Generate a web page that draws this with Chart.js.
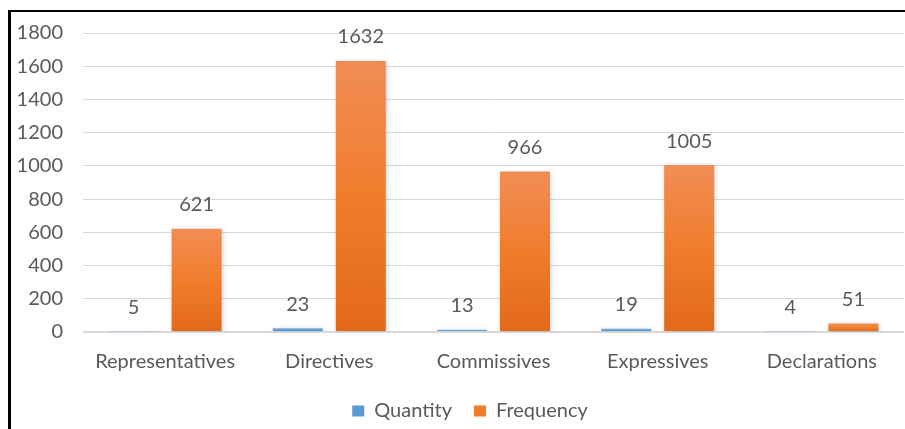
<!DOCTYPE html>
<html>
<head>
<meta charset="utf-8">
<script src="https://cdn.jsdelivr.net/npm/chart.js@4/dist/chart.umd.min.js"></script>
<style>
  html, body { margin: 0; padding: 0; background: #fff; }
  #wrap { position: relative; width: 905px; height: 429px; overflow: hidden; }
  #frame { position: absolute; left: 8px; top: 10px; right: -10px; bottom: -10px;
           border-left: 3px solid #000; border-top: 2px solid #000; }
  canvas { position: absolute; left: 0; top: 0; }
</style>
</head>
<body>
<div id="wrap">
  <div id="frame"></div>
  <canvas id="chart" width="905" height="429"></canvas>
</div>
<script>
// ── Data ──────────────────────────────────────────────────────────
const categories = ['Representatives', 'Directives', 'Commissives', 'Expressives', 'Declarations'];
const quantity   = [5, 23, 13, 19, 4];
const frequency  = [621, 1632, 966, 1005, 51];
const yTicks     = [0, 200, 400, 600, 800, 1000, 1200, 1400, 1600, 1800];

const FONT = 'Lato, "Open Sans", sans-serif';
const FSIZE = 20;
const TEXT = '#595959';

// per-bar vertical gradient, lighter at the top like Excel
function barGradient(stops) {
  return function(ctx) {
    const chart = ctx.chart;
    const y = chart.scales && chart.scales.y;
    if (!y || ctx.raw == null) return stops[1][1];
    const top = y.getPixelForValue(ctx.raw);
    const base = y.getPixelForValue(0);
    if (!isFinite(top) || Math.abs(base - top) < 1) return stops[1][1];
    const g = chart.ctx.createLinearGradient(0, top, 0, base);
    stops.forEach(s => g.addColorStop(s[0], s[1]));
    return g;
  };
}

// data labels above each bar
const valueLabels = {
  id: 'valueLabels',
  afterDatasetsDraw(chart) {
    const ctx = chart.ctx;
    ctx.save();
    ctx.font = FSIZE + 'px ' + FONT;
    ctx.fillStyle = TEXT;
    ctx.textAlign = 'center';
    ctx.textBaseline = 'middle';
    chart.data.datasets.forEach((ds, i) => {
      chart.getDatasetMeta(i).data.forEach((bar, j) => {
        ctx.fillText(String(ds.data[j]), bar.x, bar.y - 24);
      });
    });
    ctx.restore();
  }
};

// soft shadow behind the bars
const barShadow = {
  id: 'barShadow',
  beforeDatasetsDraw(chart) {
    const ctx = chart.ctx;
    ctx.save();
    ctx.shadowColor = 'rgba(0,0,0,0.22)';
    ctx.shadowBlur = 5;
    ctx.shadowOffsetX = 1;
    ctx.shadowOffsetY = 1;
  },
  afterDatasetsDraw(chart) {
    chart.ctx.restore();
  }
};

const chart = new Chart(document.getElementById('chart'), {
  type: 'bar',
  data: {
    labels: categories,
    datasets: [
      {
        label: 'Quantity',
        data: quantity,
        backgroundColor: barGradient([[0, '#7fb3e2'], [0.5, '#5b9bd5'], [1, '#4a89c6']]),
        categoryPercentage: 0.767,
        barPercentage: 0.794
      },
      {
        label: 'Frequency',
        data: frequency,
        backgroundColor: barGradient([[0, '#f18d55'], [0.5, '#f07d2c'], [1, '#e3691a']]),
        categoryPercentage: 0.767,
        barPercentage: 0.794
      }
    ]
  },
  options: {
    responsive: false,
    animation: false,
    layout: { padding: { top: 33, right: 1, left: 0, bottom: 6 } },
    plugins: {
      tooltip: { enabled: false },
      legend: {
        position: 'bottom',
        labels: {
          color: TEXT,
          font: { family: FONT, size: FSIZE },
          boxWidth: 12,
          boxHeight: 11,
          padding: 22,
          generateLabels(chart) {
            const cols = ['#5b9bd5', '#f07d2c'];
            return chart.data.datasets.map((ds, i) => ({
              text: ds.label,
              fillStyle: cols[i],
              strokeStyle: cols[i],
              lineWidth: 0,
              fontColor: TEXT,
              datasetIndex: i
            }));
          }
        }
      }
    },
    scales: {
      x: {
        grid: { display: false, drawTicks: false },
        border: { display: false },
        ticks: { color: TEXT, font: { family: FONT, size: FSIZE }, padding: 18 },
        afterFit(scale) { scale.height = 47; }
      },
      y: {
        min: 0,
        max: 1800,
        afterBuildTicks(scale) { scale.ticks = yTicks.map(v => ({ value: v })); },
        afterFit(scale) { scale.width = 83; },
        grid: {
          drawTicks: false,
          color: '#d9d9d9',
          lineWidth: ctx => (ctx.tick && ctx.tick.value === 0 ? 2 : 1)
        },
        border: { display: false },
        ticks: {
          color: TEXT,
          font: { family: FONT, size: FSIZE },
          padding: 20,
          callback: v => String(v)
        }
      }
    }
  },
  plugins: [barShadow, valueLabels]
});

// keep the legend short even with wide item spacing, and nudge it right
const legendFit = chart.legend.fit;
chart.legend.fit = function() {
  legendFit.call(this);
  this.height = 44;
};
const legendDraw = chart.legend.draw;
chart.legend.draw = function() {
  const ctx = this.ctx;
  ctx.save();
  ctx.translate(18, 0);
  legendDraw.call(this);
  ctx.restore();
};
chart.update();
</script>
</body>
</html>
